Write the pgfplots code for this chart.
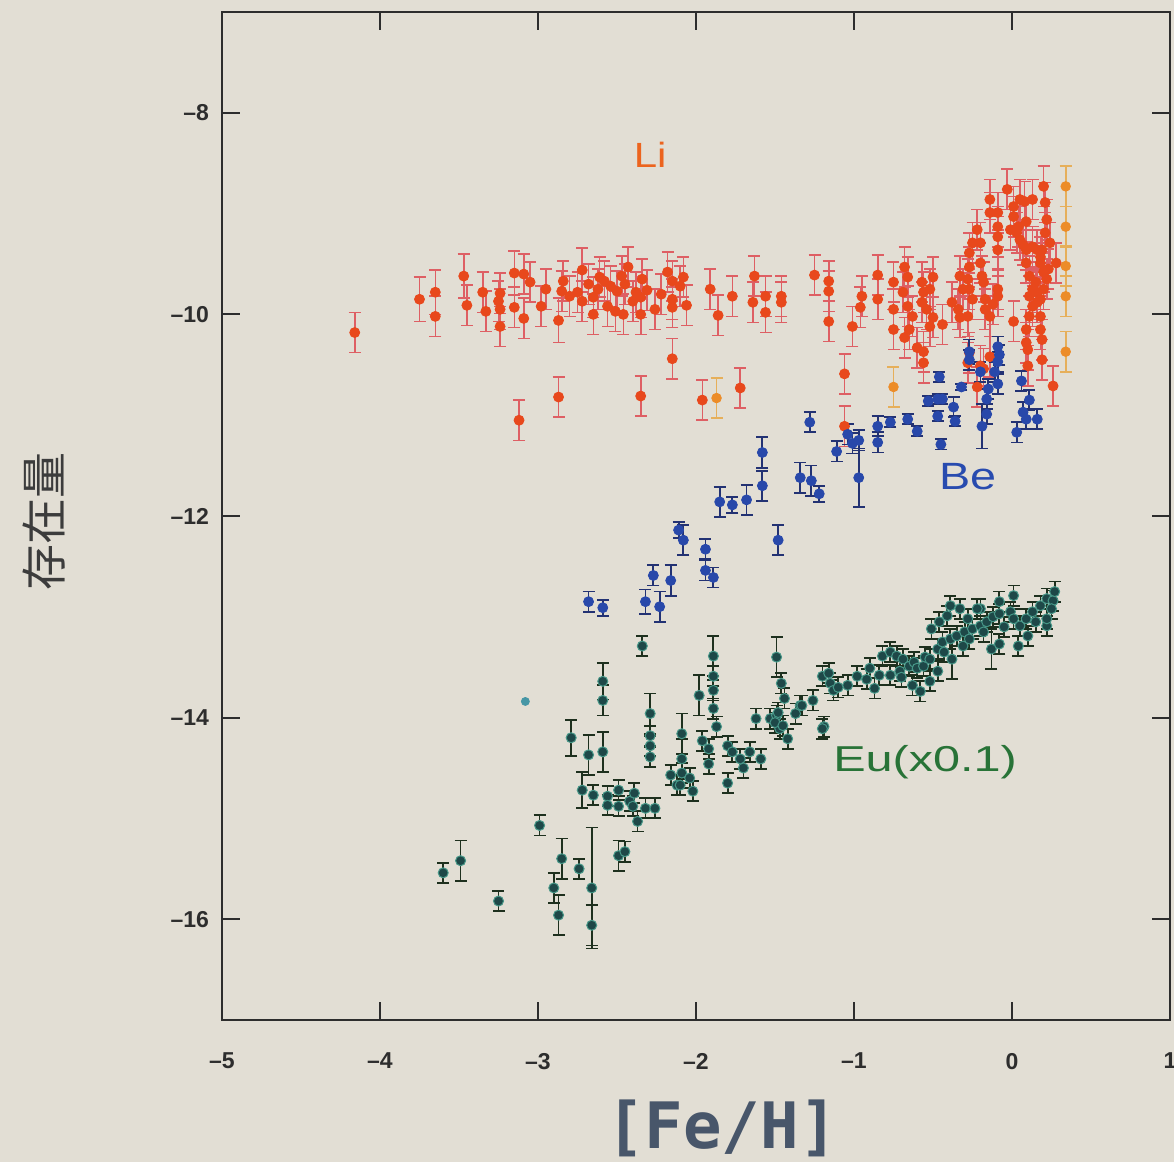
\documentclass[border=0pt]{standalone}
\usepackage{pgfplots}
\pgfplotsset{compat=1.18}
\usepackage{pgfplotstable}
\usepackage{fontspec}
\setmainfont{Liberation Sans}
\newfontfamily\monofont{DejaVu Sans Mono}
\newfontfamily\cjk{Noto Sans CJK JP}
\definecolor{paper}{RGB}{226,222,212}
\definecolor{axisc}{RGB}{45,45,45}
\definecolor{lifill}{RGB}{232,72,28}
\definecolor{lierr}{RGB}{222,95,100}
\definecolor{liyfill}{RGB}{236,140,40}
\definecolor{liyerr}{RGB}{230,175,90}
\definecolor{befill}{RGB}{40,72,170}
\definecolor{beerr}{RGB}{35,50,115}
\definecolor{eufill}{RGB}{30,72,72}
\definecolor{euedge}{RGB}{70,150,135}
\definecolor{euerr}{RGB}{30,48,30}
\definecolor{lonec}{RGB}{70,150,165}
\definecolor{litext}{RGB}{236,100,30}
\definecolor{betext}{RGB}{40,75,175}
\definecolor{eutext}{RGB}{40,115,55}
\definecolor{labc}{RGB}{72,86,106}
\definecolor{ylabc}{RGB}{60,60,60}

\pgfplotstableread{
x y e
-4.16 -10.18 0.2
-3.75 -9.85 0.22
-3.65 -9.78 0.22
-3.65 -10.02 0.2
-3.47 -9.62 0.22
-3.45 -9.91 0.2
-3.35 -9.78 0.2
-3.33 -9.97 0.2
-3.24 -9.79 0.2
-3.25 -9.87 0.2
-3.24 -9.95 0.2
-3.24 -10.12 0.2
-3.15 -9.59 0.22
-3.09 -9.60 0.2
-3.05 -9.68 0.2
-3.15 -9.93 0.2
-3.09 -10.04 0.2
-2.98 -9.92 0.2
-2.95 -9.75 0.2
-2.87 -10.06 0.22
-2.85 -9.77 0.2
-2.84 -9.67 0.2
-2.72 -9.56 0.22
-2.75 -9.78 0.2
-2.80 -9.82 0.2
-2.72 -9.87 0.2
-2.68 -9.70 0.2
-2.65 -9.83 0.2
-2.62 -9.75 0.2
-2.61 -9.63 0.2
-2.58 -9.67 0.2
-2.54 -9.72 0.2
-2.50 -9.77 0.2
-2.47 -9.62 0.2
-2.45 -9.70 0.2
-2.43 -9.53 0.2
-2.65 -10.00 0.2
-2.56 -9.92 0.2
-2.51 -9.97 0.2
-2.46 -10.00 0.2
-2.40 -9.87 0.2
-2.38 -9.78 0.2
-2.35 -9.83 0.2
-2.34 -9.65 0.2
-2.31 -9.76 0.2
-2.35 -10.00 0.2
-2.26 -9.95 0.2
-2.22 -9.80 0.2
-2.18 -9.58 0.2
-2.15 -9.67 0.2
-2.10 -9.72 0.2
-2.08 -9.63 0.2
-2.15 -9.85 0.2
-2.15 -9.93 0.2
-2.06 -9.91 0.2
-2.15 -10.44 0.2
-1.91 -9.75 0.2
-1.86 -10.01 0.2
-1.77 -9.82 0.2
-2.35 -10.81 0.2
-2.87 -10.82 0.2
-3.12 -11.05 0.2
-1.96 -10.85 0.2
-1.72 -10.73 0.2
-1.63 -9.62 0.2
-1.64 -9.88 0.2
-1.56 -9.82 0.2
-1.56 -9.98 0.2
-1.46 -9.82 0.2
-1.46 -9.88 0.2
-1.25 -9.61 0.2
-1.16 -9.67 0.2
-1.16 -9.77 0.2
-1.16 -10.07 0.2
-1.01 -10.12 0.2
-0.96 -9.93 0.2
-0.95 -9.82 0.2
-0.85 -9.61 0.2
-0.85 -9.85 0.2
-1.06 -10.59 0.2
-1.06 -11.11 0.2
-0.75 -9.68 0.2
-0.75 -9.95 0.2
-0.75 -10.15 0.2
-0.68 -9.53 0.2
-0.66 -9.63 0.2
-0.69 -9.78 0.2
-0.66 -9.92 0.2
-0.63 -10.02 0.2
-0.68 -10.23 0.2
-0.65 -10.15 0.2
-0.60 -10.33 0.2
-0.56 -10.37 0.2
-0.56 -10.48 0.2
-0.57 -9.68 0.2
-0.56 -9.78 0.2
-0.52 -9.75 0.2
-0.50 -9.63 0.2
-0.57 -9.88 0.2
-0.54 -9.95 0.2
-0.50 -10.03 0.2
-0.52 -10.12 0.2
-0.44 -10.10 0.2
-0.38 -9.88 0.2
-0.33 -9.62 0.2
-0.31 -9.75 0.2
-0.34 -9.95 0.2
-0.33 -10.03 0.2
-0.27 -9.53 0.2
-0.27 -9.39 0.2
-0.25 -9.29 0.2
-0.22 -9.16 0.2
-0.20 -9.29 0.2
-0.28 -9.65 0.2
-0.27 -9.75 0.2
-0.25 -9.85 0.2
-0.28 -10.02 0.2
-0.20 -9.49 0.2
-0.19 -9.62 0.2
-0.18 -9.68 0.2
-0.17 -9.85 0.2
-0.14 -8.86 0.2
-0.14 -8.99 0.2
-0.09 -8.99 0.2
-0.09 -9.13 0.2
-0.09 -9.23 0.2
-0.09 -9.36 0.2
-0.17 -9.95 0.2
-0.14 -10.02 0.2
-0.12 -9.90 0.2
-0.09 -9.82 0.2
-0.09 -9.75 0.2
-0.03 -8.76 0.2
0.01 -8.93 0.2
0.01 -9.03 0.2
-0.01 -9.16 0.2
-0.27 -10.38 0.2
-0.28 -10.48 0.2
-0.20 -10.51 0.2
-0.18 -10.54 0.2
-0.22 -10.72 0.2
-0.14 -10.42 0.2
0.01 -10.07 0.2
0.03 -9.19 0.2
0.05 -9.26 0.2
0.07 -9.31 0.2
0.09 -9.36 0.2
0.04 -9.13 0.2
0.05 -8.86 0.2
0.08 -8.88 0.2
0.13 -8.86 0.2
0.09 -9.08 0.2
0.09 -9.49 0.2
0.11 -9.62 0.2
0.15 -9.68 0.2
0.16 -9.78 0.2
0.13 -9.75 0.2
0.13 -9.33 0.2
0.16 -9.36 0.2
0.18 -9.43 0.2
0.11 -9.82 0.2
0.13 -9.92 0.2
0.11 -10.02 0.2
0.09 -10.15 0.2
0.09 -10.28 0.2
0.10 -10.35 0.2
0.10 -10.51 0.2
0.20 -8.73 0.2
0.21 -8.89 0.2
0.22 -9.06 0.2
0.21 -9.19 0.2
0.19 -9.36 0.2
0.18 -9.49 0.2
0.20 -9.58 0.2
0.22 -9.65 0.2
0.20 -9.75 0.2
0.18 -9.85 0.2
0.16 -9.88 0.2
0.18 -10.02 0.2
0.18 -10.15 0.2
0.19 -10.25 0.2
0.19 -10.45 0.2
0.24 -9.29 0.2
0.23 -9.55 0.2
0.28 -9.49 0.2
0.26 -10.71 0.2
}\lidata

\pgfplotstableread{
x y e
-1.87 -10.83 0.2
-0.75 -10.72 0.2
0.34 -8.73 0.2
0.34 -9.13 0.2
0.34 -9.52 0.2
0.34 -9.82 0.2
0.34 -10.37 0.2
}\liydata

\pgfplotstableread{
x y e
-2.68 -12.85 0.1
-2.59 -12.91 0.08
-2.32 -12.85 0.12
-2.27 -12.59 0.1
-2.23 -12.90 0.15
-2.16 -12.64 0.15
-2.11 -12.14 0.08
-2.08 -12.24 0.15
-1.94 -12.33 0.1
-1.94 -12.54 0.1
-1.89 -12.61 0.1
-1.85 -11.86 0.15
-1.77 -11.89 0.08
-1.68 -11.84 0.15
-1.58 -11.70 0.15
-1.58 -11.37 0.15
-1.48 -12.24 0.15
-1.34 -11.62 0.15
-1.27 -11.65 0.15
-1.22 -11.78 0.08
-1.28 -11.07 0.1
-1.11 -11.36 0.1
-1.04 -11.19 0.1
-1.01 -11.28 0.1
-0.97 -11.25 0.1
-0.97 -11.62 0.29
-0.85 -11.27 0.1
-0.85 -11.11 0.1
-0.77 -11.07 0.05
-0.66 -11.04 0.05
-0.60 -11.16 0.05
-0.53 -10.86 0.05
-0.46 -10.62 0.05
-0.47 -10.84 0.05
-0.44 -10.84 0.05
-0.47 -11.01 0.05
-0.37 -10.92 0.1
-0.36 -11.06 0.05
-0.45 -11.29 0.05
-0.32 -10.72 0.03
-0.27 -10.37 0.12
-0.27 -10.45 0.1
-0.20 -10.57 0.1
-0.16 -10.84 0.1
-0.15 -10.74 0.1
-0.16 -10.99 0.1
-0.19 -11.11 0.22
-0.09 -10.32 0.1
-0.09 -10.47 0.1
-0.11 -10.57 0.1
-0.09 -10.69 0.1
-0.08 -10.40 0.1
0.06 -10.66 0.1
0.11 -10.85 0.1
0.09 -11.04 0.1
0.16 -11.04 0.1
0.03 -11.17 0.1
0.07 -10.97 0.1
}\bedata

\pgfplotstableread{
x y e
-3.60 -15.54 0.1
-3.49 -15.42 0.2
-3.25 -15.82 0.1
-2.99 -15.07 0.1
-2.85 -15.40 0.2
-2.74 -15.50 0.1
-2.90 -15.69 0.15
-2.87 -15.96 0.2
-2.66 -15.69 0.6
-2.66 -16.06 0.2
-2.79 -14.20 0.18
-2.68 -14.37 0.2
-2.59 -13.64 0.18
-2.59 -13.83 0.15
-2.59 -14.34 0.2
-2.72 -14.72 0.18
-2.65 -14.77 0.1
-2.56 -14.78 0.1
-2.56 -14.87 0.1
-2.49 -14.72 0.1
-2.49 -14.88 0.1
-2.42 -14.83 0.1
-2.39 -14.75 0.1
-2.40 -14.88 0.1
-2.37 -15.03 0.1
-2.32 -14.90 0.1
-2.26 -14.90 0.1
-2.49 -15.37 0.15
-2.45 -15.33 0.1
-2.34 -13.29 0.1
-2.29 -13.96 0.2
-2.29 -14.18 0.1
-2.29 -14.28 0.1
-2.29 -14.39 0.1
-2.16 -14.57 0.1
-2.12 -14.67 0.1
-2.09 -14.55 0.1
-2.04 -14.60 0.1
-2.02 -14.73 0.1
-2.10 -14.67 0.1
-2.09 -14.16 0.2
-2.09 -14.41 0.2
-1.98 -13.78 0.2
-1.96 -14.23 0.1
-1.92 -14.31 0.1
-1.92 -14.46 0.1
-1.89 -13.39 0.2
-1.89 -13.59 0.1
-1.89 -13.73 0.1
-1.89 -13.91 0.1
-1.87 -14.09 0.1
-1.80 -14.28 0.1
-1.77 -14.34 0.1
-1.72 -14.41 0.1
-1.70 -14.50 0.1
-1.66 -14.34 0.1
-1.59 -14.41 0.1
-1.80 -14.65 0.1
-1.49 -13.40 0.2
-1.46 -13.66 0.1
-1.44 -13.81 0.1
-1.37 -13.96 0.1
-1.34 -13.88 0.1
-1.26 -13.83 0.1
-1.62 -14.01 0.1
-1.53 -14.01 0.1
-1.49 -13.98 0.1
-1.47 -14.11 0.1
-1.42 -14.21 0.1
-1.50 -14.05 0.1
-1.48 -13.95 0.1
-1.20 -13.59 0.1
-1.15 -13.66 0.1
-1.13 -13.73 0.1
-1.19 -14.09 0.1
-1.04 -13.68 0.1
-1.45 -14.08 0.1
-1.33 -13.88 0.1
-1.20 -14.11 0.1
-1.16 -13.56 0.1
-1.10 -13.70 0.1
-0.98 -13.59 0.1
-0.92 -13.62 0.1
-0.90 -13.51 0.1
-0.87 -13.71 0.1
-0.82 -13.39 0.1
-0.77 -13.35 0.1
-0.73 -13.39 0.1
-0.69 -13.42 0.1
-0.84 -13.58 0.1
-0.77 -13.58 0.1
-0.71 -13.54 0.1
-0.70 -13.60 0.1
-0.65 -13.49 0.1
-0.62 -13.45 0.1
-0.60 -13.51 0.1
-0.56 -13.49 0.1
-0.55 -13.40 0.1
-0.52 -13.42 0.1
-0.58 -13.74 0.1
-0.63 -13.68 0.1
-0.52 -13.64 0.1
-0.47 -13.54 0.1
-0.47 -13.32 0.1
-0.44 -13.25 0.1
-0.43 -13.35 0.1
-0.39 -13.22 0.1
-0.38 -13.42 0.2
-0.51 -13.12 0.1
-0.46 -13.05 0.1
-0.41 -12.99 0.1
-0.35 -13.19 0.1
-0.31 -13.29 0.1
-0.30 -13.15 0.1
-0.27 -13.22 0.1
-0.25 -13.12 0.1
-0.20 -13.09 0.1
-0.18 -13.15 0.1
-0.16 -13.05 0.1
-0.12 -13.00 0.1
-0.08 -12.97 0.1
-0.05 -13.10 0.1
-0.01 -12.95 0.1
0.01 -13.02 0.1
-0.20 -12.92 0.1
-0.08 -12.85 0.1
0.01 -12.79 0.1
-0.13 -13.32 0.2
-0.08 -13.27 0.1
0.05 -13.09 0.1
0.09 -13.02 0.1
0.13 -12.95 0.1
0.15 -13.05 0.1
0.18 -12.89 0.1
0.22 -12.82 0.1
0.26 -12.84 0.1
0.04 -13.29 0.1
0.10 -13.19 0.1
0.22 -13.09 0.1
0.25 -12.92 0.1
0.27 -12.75 0.1
0.22 -13.02 0.1
-0.28 -13.02 0.1
-0.22 -12.92 0.1
-0.33 -12.92 0.1
-0.39 -12.89 0.1
}\eudata

\begin{document}
\begin{tikzpicture}
\useasboundingbox (0,0) rectangle (587pt,581pt);
\fill[paper] (0,0) rectangle (587pt,581pt);
\begin{axis}[
  at={(111pt,71pt)}, anchor=south west,
  scale only axis, width=474pt, height=504pt,
  xmin=-5, xmax=1, ymin=-17, ymax=-7,
  xtick={-5,-4,-3,-2,-1,0,1},
  xticklabels={--5,--4,--3,--2,--1,0,1},
  ytick={-16,-14,-12,-10,-8},
  yticklabels={--16,--14,--12,--10,--8},
  tick align=inside, major tick length=9pt,
  tick style={axisc, line width=1pt},
  axis line style={axisc, line width=1.2pt},
  ticklabel style={font=\bfseries\fontsize{11.5}{13}\selectfont, text=axisc},
  xticklabel style={yshift=-13pt},
  yticklabel style={xshift=-3pt},
  clip=false,
]
\addplot[only marks, mark=*, mark size=2.5pt, mark options={fill=lifill, draw=lifill},
  error bars/.cd, y dir=both, y explicit,
  error bar style={lierr, line width=0.8pt},
  error mark options={rotate=90, lierr, mark size=3pt, line width=0.8pt}]
  table[x=x, y=y, y error=e] {\lidata};
\addplot[only marks, mark=*, mark size=2.4pt, mark options={fill=liyfill, draw=liyfill},
  error bars/.cd, y dir=both, y explicit,
  error bar style={liyerr, line width=0.8pt},
  error mark options={rotate=90, liyerr, mark size=3pt, line width=0.8pt}]
  table[x=x, y=y, y error=e] {\liydata};
\addplot[only marks, mark=*, mark size=2.5pt, mark options={fill=befill, draw=befill},
  error bars/.cd, y dir=both, y explicit,
  error bar style={beerr, line width=0.9pt},
  error mark options={rotate=90, beerr, mark size=3pt, line width=0.9pt}]
  table[x=x, y=y, y error=e] {\bedata};
\addplot[only marks, mark=*, mark size=2.5pt, mark options={fill=eufill, draw=euedge, line width=0.5pt},
  error bars/.cd, y dir=both, y explicit,
  error bar style={euerr, line width=0.9pt},
  error mark options={rotate=90, euerr, mark size=3pt, line width=0.9pt}]
  table[x=x, y=y, y error=e] {\eudata};
\addplot[only marks, mark=*, mark size=2pt, mark options={fill=lonec, draw=lonec}]
  coordinates {(-3.08,-13.84)};
\node[text=litext, font=\fontsize{17.5}{20}\selectfont, xscale=1.2] at (axis cs:-2.29,-8.42) {Li};
\node[text=betext, font=\fontsize{19}{22}\selectfont, xscale=1.23] at (axis cs:-0.28,-11.61) {Be};
\node[text=eutext, font=\fontsize{18}{21}\selectfont, xscale=1.35] at (axis cs:-0.55,-14.44) {Eu(x0.1)};
\end{axis}
\node[rotate=90, font=\cjk\fontsize{23}{26}\selectfont, text=ylabc] at (22pt,320pt) {存在量};
\node[font=\monofont\bfseries\fontsize{32}{36}\selectfont, text=labc] at (361pt,17pt) {[Fe/H]};
\end{tikzpicture}
\end{document}
